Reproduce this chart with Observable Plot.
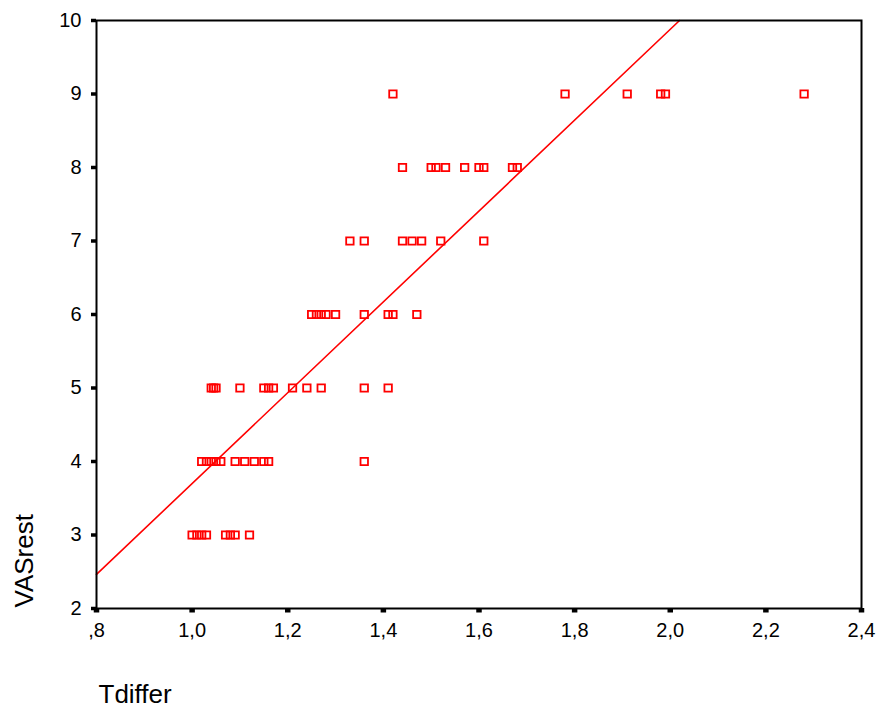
<!DOCTYPE html>
<html><head><meta charset="utf-8">
<script src="https://cdn.jsdelivr.net/npm/d3@7"></script>
<script src="https://cdn.jsdelivr.net/npm/@observablehq/plot@0.6"></script>
<style>body{margin:0;background:#fff}#chart svg{display:block}</style>
</head><body><div id="chart"></div>
<script>
// Tdiffer values for each VASrest level
const vas3 = [1.00, 1.01, 1.02, 1.03, 1.07, 1.08, 1.09, 1.12];
const vas4 = [1.02, 1.03, 1.04, 1.05, 1.06, 1.09, 1.11, 1.13, 1.15, 1.16, 1.36];
const vas5 = [1.04, 1.045, 1.05, 1.10, 1.15, 1.16, 1.17, 1.21, 1.24, 1.27, 1.36, 1.41];
const vas6 = [1.25, 1.26, 1.27, 1.28, 1.30, 1.36, 1.41, 1.42, 1.47];
const vas7 = [1.33, 1.36, 1.44, 1.46, 1.48, 1.52, 1.61];
const vas8 = [1.44, 1.50, 1.51, 1.53, 1.57, 1.60, 1.61, 1.67, 1.68];
const vas9 = [1.42, 1.78, 1.91, 1.98, 1.99, 2.28];
const levels = [[3, vas3], [4, vas4], [5, vas5], [6, vas6], [7, vas7], [8, vas8], [9, vas9]];

const xTicks = [0.8, 1.0, 1.2, 1.4, 1.6, 1.8, 2.0, 2.2, 2.4];
const yTicks = [2, 3, 4, 5, 6, 7, 8, 9, 10];

// fit line: VASrest = intercept + slope * Tdiffer
const fitIntercept = -2.48;
const fitSlope = 6.18;

const data = levels.flatMap(([v, xs]) => xs.map(t => ({Tdiffer: t, VASrest: v})));
const xMin = xTicks[0], yMax = yTicks[yTicks.length - 1];
const fit = [
  {Tdiffer: xMin, VASrest: fitIntercept + fitSlope * xMin},
  {Tdiffer: (yMax - fitIntercept) / fitSlope, VASrest: yMax}
];
const fmt = v => d3.format(".1f")(v).replace(/^0/, "").replace(".", ",");

const chart = Plot.plot({
  width: 878,
  height: 709,
  marginLeft: 96,
  marginRight: 17,
  marginTop: 20,
  marginBottom: 101,
  style: {fontFamily: "'Liberation Sans', Arial, sans-serif", fontSize: "20px", background: "#fff", color: "#000"},
  x: {domain: [0.8, 2.4]},
  y: {domain: [2, 10]},
  marks: [
    Plot.axisY({ticks: yTicks, tickSize: 5, tickPadding: 10, strokeWidth: 3.5, label: null}),
    Plot.axisX({ticks: xTicks, tickFormat: fmt, tickSize: 4.5, tickPadding: 10, strokeWidth: 5.5, label: null}),
    Plot.line(fit, {x: "Tdiffer", y: "VASrest", stroke: "#ff0000", strokeWidth: 1.6}),
    Plot.dot(data, {x: "Tdiffer", y: "VASrest", symbol: "square", r: 4.2, stroke: "#ff0000", strokeWidth: 1.8, fill: "none"}),
    Plot.frame({stroke: "#000", strokeWidth: 2}),
    Plot.text(["Tdiffer"], {text: d => d, frameAnchor: "bottom-left", textAnchor: "start", lineAnchor: "bottom", dx: 2, dy: 94, fontSize: 26}),
    Plot.text(["VASrest"], {text: d => d, frameAnchor: "bottom-left", rotate: -90, textAnchor: "start", lineAnchor: "bottom", dx: -63.5, dy: -1, fontSize: 26})
  ]
});
document.getElementById("chart").appendChild(chart);
</script>
</body></html>
